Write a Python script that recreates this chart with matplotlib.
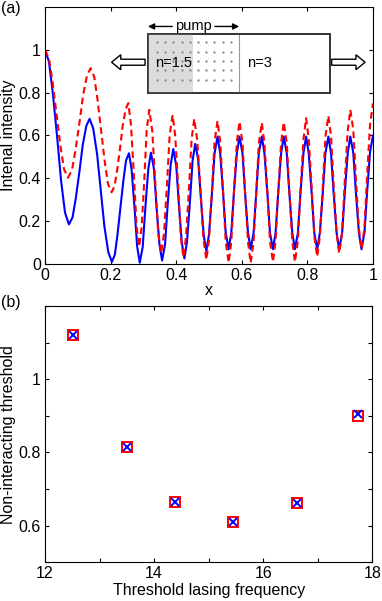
import numpy as np
import matplotlib
matplotlib.use('Agg')
import matplotlib.pyplot as plt
from matplotlib.patches import Rectangle, FancyArrow

plt.rcParams['font.family'] = ['Liberation Sans', 'DejaVu Sans']
plt.rcParams['font.size'] = 11.5

# (a) intensity profiles
x_head_blue = [0.000, 0.012, 0.024, 0.037, 0.049, 0.061, 0.073,
               0.084, 0.094, 0.105, 0.115, 0.126, 0.136,
               0.147, 0.159, 0.170, 0.181, 0.193, 0.204,
               0.213, 0.221, 0.230, 0.239, 0.247, 0.256,
               0.264, 0.273, 0.281, 0.289,
               0.298, 0.306, 0.315, 0.323,
               0.332, 0.340, 0.349, 0.357,
               0.366, 0.374, 0.383, 0.391,
               0.400, 0.408, 0.417, 0.425,
               0.433, 0.442, 0.450, 0.458,
               0.467, 0.475, 0.484, 0.492]
y_head_blue = [1.000, 0.945, 0.796, 0.593, 0.389, 0.240, 0.185,
               0.218, 0.308, 0.432, 0.555, 0.645, 0.678,
               0.633, 0.511, 0.344, 0.177, 0.055, 0.010,
               0.044, 0.137, 0.264, 0.390, 0.483, 0.517,
               0.442, 0.262, 0.081, 0.006,
               0.081, 0.263, 0.445, 0.520,
               0.446, 0.268, 0.090, 0.016,
               0.092, 0.277, 0.461, 0.537,
               0.462, 0.282, 0.101, 0.026,
               0.104, 0.294, 0.483, 0.561,
               0.488, 0.311, 0.134, 0.060]

x_head_red = [0.000, 0.012, 0.023, 0.035, 0.047, 0.058, 0.070,
              0.082, 0.093, 0.105, 0.116, 0.128, 0.139,
              0.150, 0.160, 0.171, 0.182, 0.192, 0.203,
              0.212, 0.220, 0.229, 0.237, 0.246, 0.254,
              0.262, 0.271, 0.279, 0.287,
              0.295, 0.303, 0.310, 0.318,
              0.327, 0.336, 0.345, 0.354,
              0.363, 0.372, 0.380, 0.389,
              0.397, 0.406, 0.414, 0.422,
              0.430, 0.439, 0.447, 0.455,
              0.464, 0.474, 0.483, 0.492]
y_head_red = [1.000, 0.960, 0.851, 0.702, 0.552, 0.443, 0.403,
              0.437, 0.531, 0.659, 0.786, 0.880, 0.914,
              0.875, 0.769, 0.625, 0.480, 0.374, 0.335,
              0.363, 0.439, 0.543, 0.647, 0.723, 0.751,
              0.653, 0.416, 0.179, 0.081,
              0.175, 0.401, 0.626, 0.720,
              0.622, 0.385, 0.148, 0.050,
              0.145, 0.373, 0.601, 0.696,
              0.599, 0.364, 0.128, 0.031,
              0.126, 0.355, 0.583, 0.678,
              0.581, 0.349, 0.116, 0.019]

# common x samples for the n=3 part (x > 0.492)
x_tail = [0.500, 0.509, 0.517, 0.526,
          0.534, 0.543, 0.551, 0.560,
          0.568, 0.576, 0.585, 0.593,
          0.602, 0.610, 0.619, 0.627,
          0.636, 0.644, 0.652, 0.661,
          0.669, 0.678, 0.686, 0.695,
          0.703, 0.711, 0.720, 0.728,
          0.737, 0.745, 0.754, 0.762,
          0.771, 0.779, 0.788, 0.796,
          0.804, 0.813, 0.821, 0.830,
          0.838, 0.847, 0.855, 0.864,
          0.872, 0.880, 0.889, 0.897,
          0.906, 0.914, 0.923, 0.931,
          0.940, 0.948, 0.957, 0.965,
          0.974, 0.982, 0.991, 1.000]
y_tail_blue = [0.138, 0.328, 0.517, 0.595,
               0.518, 0.332, 0.146, 0.069,
               0.146, 0.332, 0.518, 0.595,
               0.518, 0.332, 0.146, 0.069,
               0.146, 0.332, 0.518, 0.595,
               0.518, 0.332, 0.146, 0.069,
               0.146, 0.332, 0.518, 0.595,
               0.518, 0.332, 0.146, 0.069,
               0.146, 0.332, 0.518, 0.595,
               0.518, 0.332, 0.146, 0.069,
               0.146, 0.332, 0.518, 0.595,
               0.518, 0.332, 0.146, 0.069,
               0.146, 0.332, 0.518, 0.595,
               0.518, 0.332, 0.146, 0.069,
               0.146, 0.334, 0.522, 0.600]
y_tail_red = [0.114, 0.344, 0.573, 0.668,
              0.571, 0.337, 0.103, 0.006,
              0.103, 0.336, 0.569, 0.665,
              0.568, 0.335, 0.102, 0.005,
              0.101, 0.333, 0.564, 0.660,
              0.565, 0.335, 0.105, 0.010,
              0.106, 0.336, 0.567, 0.662,
              0.567, 0.336, 0.106, 0.010,
              0.108, 0.346, 0.583, 0.681,
              0.586, 0.358, 0.129, 0.034,
              0.130, 0.363, 0.596, 0.692,
              0.598, 0.371, 0.144, 0.050,
              0.148, 0.385, 0.622, 0.720,
              0.625, 0.395, 0.164, 0.069,
              0.169, 0.410, 0.650, 0.750]

# (b) thresholds
freq_blue = [12.507, 13.497, 14.377, 15.452, 16.614, 17.735]
thr_blue = [1.122, 0.816, 0.666, 0.610, 0.663, 0.905]
freq_red = [12.507, 13.497, 14.377, 15.452, 16.614, 17.730]
thr_red = [1.122, 0.816, 0.666, 0.610, 0.663, 0.899]


def style_axes(ax):
    ax.tick_params(direction='in', top=True, right=True, length=3, width=0.8,
                   labelsize=11.5, pad=3)
    for s in ax.spines.values():
        s.set_linewidth(0.8)


fig = plt.figure(figsize=(3.82, 6.01), dpi=100)
ax1 = fig.add_axes([0.1178, 0.5607, 0.8586, 0.4277])
ax2 = fig.add_axes([0.1178, 0.0644, 0.8568, 0.4264])

# ---- panel (a)
bx = x_head_blue + x_tail
by = y_head_blue + y_tail_blue
rx = x_head_red + x_tail
ry = y_head_red + y_tail_red
ax1.plot(bx, by, color='b', lw=1.5)
ax1.plot(rx, ry, color='r', lw=1.5, dashes=(3.2, 2))
ax1.set_xlim(0, 1)
ax1.set_ylim(0, 1.2)
ax1.set_xticks([0, 0.2, 0.4, 0.6, 0.8, 1])
ax1.set_xticklabels(['0', '0.2', '0.4', '0.6', '0.8', '1'])
ax1.set_yticks([0, 0.2, 0.4, 0.6, 0.8, 1])
ax1.set_yticklabels(['0', '0.2', '0.4', '0.6', '0.8', '1'])
ax1.set_xlabel('x')
ax1.set_ylabel('Intenal intensity')
ax1.xaxis.set_label_coords(0.5, -0.075)
ax1.yaxis.set_label_coords(-0.088, 0.5)
style_axes(ax1)

# inset schematic of the cavity
bx0, bx1, by0, by1 = 0.314, 0.869, 0.798, 1.075
ax1.add_patch(Rectangle((bx0, by0), bx1 - bx0, by1 - by0, fc='white',
                        ec='#333333', lw=1.2, zorder=5))
ax1.add_patch(Rectangle((bx0, by0), 0.452 - bx0, by1 - by0, fc='#dcdcdc',
                        ec='none', zorder=5))
ax1.add_patch(Rectangle((bx0, by0), bx1 - bx0, by1 - by0, fc='none',
                        ec='#333333', lw=1.2, zorder=7))
ax1.plot([0.592, 0.592], [by0, by1], color='#999999', lw=0.8, zorder=6)
gx, gy = np.meshgrid(np.linspace(0.341, 0.567, 10), np.linspace(0.860, 1.036, 5))
ax1.scatter(gx.ravel(), gy.ravel(), s=3, color='#909090', zorder=6, lw=0)
ax1.text(0.392, 0.940, 'n=1.5', ha='center', va='center', fontsize=10.5, zorder=8)
ax1.text(0.655, 0.940, 'n=3', ha='center', va='center', fontsize=10.5, zorder=8)
ax1.text(0.454, 1.109, 'pump', ha='center', va='center', fontsize=10.5, zorder=8)
ax1.annotate('', xy=(0.314, 1.109), xytext=(0.388, 1.109),
             arrowprops=dict(arrowstyle='-|>', color='k', lw=1, mutation_scale=9,
                             shrinkA=0, shrinkB=0))
ax1.annotate('', xy=(0.592, 1.109), xytext=(0.518, 1.109),
             arrowprops=dict(arrowstyle='-|>', color='k', lw=1, mutation_scale=9,
                             shrinkA=0, shrinkB=0))
ax1.add_patch(FancyArrow(0.305, 0.942, -0.102, 0, width=0.028, head_width=0.07,
                         head_length=0.028, length_includes_head=True,
                         fc='white', ec='black', lw=1, zorder=8))
ax1.add_patch(FancyArrow(0.874, 0.942, 0.102, 0, width=0.028, head_width=0.07,
                         head_length=0.028, length_includes_head=True,
                         fc='white', ec='black', lw=1, zorder=8))

# ---- panel (b)
ax2.plot(freq_red, thr_red, 's', mfc='none', mec='r', ms=6.5, mew=1.4)
ax2.plot(freq_blue, thr_blue, 'x', color='b', ms=5.5, mew=1.4)
ax2.set_xlim(12, 18)
ax2.set_ylim(0.5, 1.2)
ax2.set_xticks(np.arange(12, 19, 1))
ax2.set_xticklabels(['12', '', '14', '', '16', '', '18'])
ax2.set_yticks(np.arange(0.5, 1.25, 0.1))
ax2.set_yticklabels(['', '0.6', '', '0.8', '', '1', '', ''])
ax2.set_xlabel('Threshold lasing frequency')
ax2.set_ylabel('Non-interacting threshold')
ax2.xaxis.set_label_coords(0.5, -0.08)
ax2.yaxis.set_label_coords(-0.088, 0.5)
style_axes(ax2)

fig.text(0.003, 0.986, '(a)', ha='left', va='center', fontsize=11.5)
fig.text(0.003, 0.497, '(b)', ha='left', va='center', fontsize=11.5)

fig.savefig('out.png', dpi=100)
